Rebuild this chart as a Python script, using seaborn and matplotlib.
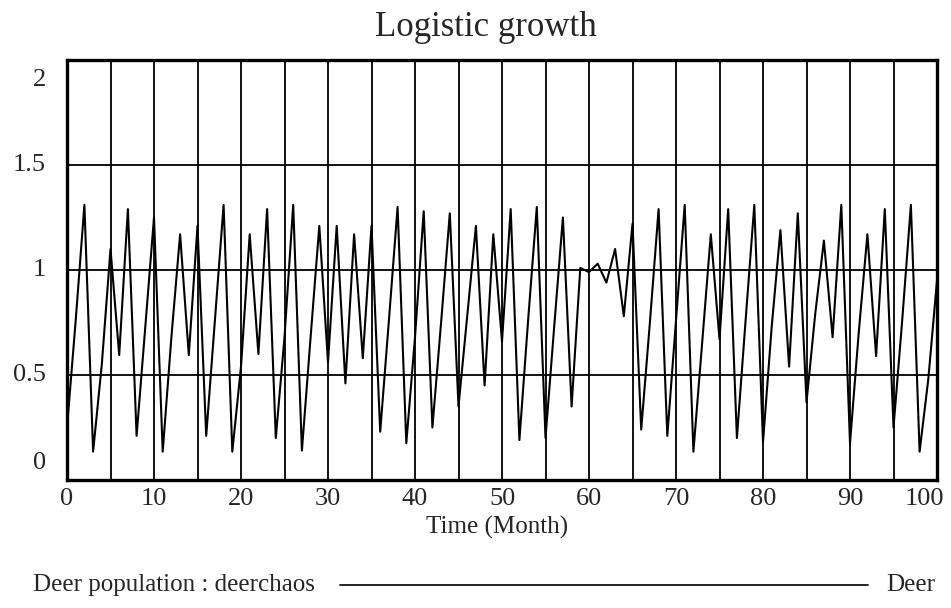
import matplotlib
matplotlib.use('Agg')
import matplotlib.pyplot as plt
import matplotlib.transforms as mtransforms
from matplotlib.lines import Line2D
import pandas as pd
import seaborn as sns

# ---- data ----
time_months = list(range(0, 101))
deer_population = [
    0.25, 0.76, 1.31, 0.135, 0.55, 1.10, 0.595, 1.29, 0.21, 0.73,
    1.25, 0.135, 0.68, 1.17, 0.595, 1.21, 0.21, 0.76, 1.31, 0.135,
    0.54, 1.17, 0.60, 1.29, 0.20, 0.68, 1.31, 0.14, 0.68, 1.21,
    0.56, 1.21, 0.46, 1.17, 0.58, 1.21, 0.23, 0.76, 1.30, 0.175,
    0.68, 1.28, 0.25, 0.75, 1.27, 0.35, 0.78, 1.21, 0.45, 1.17,
    0.66, 1.29, 0.19, 0.76, 1.30, 0.20, 0.73, 1.25, 0.35, 1.01,
    0.99, 1.03, 0.94, 1.10, 0.78, 1.22, 0.24, 0.75, 1.29, 0.21,
    0.76, 1.31, 0.135, 0.65, 1.17, 0.67, 1.29, 0.20, 0.76, 1.31,
    0.18, 0.73, 1.19, 0.54, 1.27, 0.37, 0.79, 1.14, 0.68, 1.31,
    0.175, 0.70, 1.17, 0.59, 1.29, 0.25, 0.76, 1.31, 0.135, 0.48,
    0.95,
]
x_tick_values = [0, 10, 20, 30, 40, 50, 60, 70, 80, 90, 100]
x_grid_values = list(range(0, 101, 5))
y_tick_values = [0, 0.5, 1, 1.5, 2]
y_tick_labels = ['0', '0.5', '1', '1.5', '2']
title_text = 'Logistic growth'
x_label_text = 'Time (Month)'
legend_label = 'Deer population : deerchaos'
legend_unit = 'Deer'

sns.set_style('white')
plt.rcParams['font.family'] = ['Liberation Serif', 'DejaVu Serif']

W, H = 951, 608
fig = plt.figure(figsize=(W / 100, H / 100), dpi=100)
ax = fig.add_axes([67 / W, 1 - 480 / H, (937 - 67) / W, (480 - 60) / H])

df = pd.DataFrame({'Time': time_months, 'Deer': deer_population})
sns.lineplot(data=df, x='Time', y='Deer', ax=ax, color='black',
             linewidth=1.5, zorder=3)

ax.set_xlim(0, 100)
ax.set_ylim(0, 2)
ax.set_xticks(x_grid_values)
ax.set_yticks(y_tick_values)
ax.set_xticklabels([])
ax.set_yticklabels([])
ax.tick_params(length=0)
ax.grid(True, color='black', linewidth=1.3)
ax.set_axisbelow(True)
for s in ax.spines.values():
    s.set_color('black')
    s.set_linewidth(2.4)
ax.set_xlabel('')
ax.set_ylabel('')

def px_offset(dx, dy):
    return mtransforms.ScaledTranslation(dx / 100, dy / 100, fig.dpi_scale_trans)

# y tick labels (Vensim style: end labels pulled inside the frame)
ytrans = mtransforms.blended_transform_factory(ax.transAxes, ax.transData)
for v, lab in zip(y_tick_values, y_tick_labels):
    dy = 0
    if v == y_tick_values[0]:
        dy = 17
    elif v == y_tick_values[-1]:
        dy = -20
    ax.text(0, v, lab, transform=ytrans + px_offset(-21, dy), ha='right',
            va='center', fontsize=19)

# x tick labels
xtrans = mtransforms.blended_transform_factory(ax.transData, ax.transAxes)
for v in x_tick_values:
    dx = -13 if v == x_tick_values[-1] else 0
    ax.text(v, 0, str(v), transform=xtrans + px_offset(dx, -19), ha='center',
            va='center', fontsize=19)

fig.text(486 / W, 1 - 27 / H, title_text, ha='center', va='center', fontsize=25)
fig.text(497 / W, 1 - 527 / H, x_label_text, ha='center', va='center', fontsize=18)

# legend row
fig.text(33 / W, 1 - 585 / H, legend_label, ha='left', va='center', fontsize=18)
fig.add_artist(Line2D([340 / W, 868 / W], [1 - 585 / H, 1 - 585 / H],
                      color='black', linewidth=1.2))
fig.text(935 / W, 1 - 585 / H, legend_unit, ha='right', va='center', fontsize=18)

fig.savefig('out.png', dpi=100)
